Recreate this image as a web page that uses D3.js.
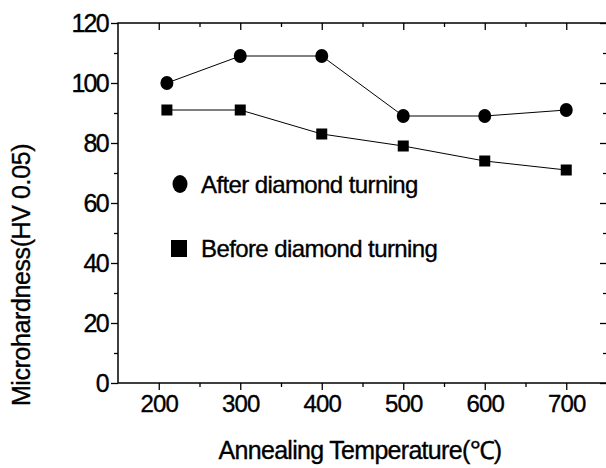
<!DOCTYPE html>
<html>
<head>
<meta charset="utf-8">
<script src="https://cdn.jsdelivr.net/npm/d3@7"></script>
<style>
  body { margin: 0; background: #fff; }
  svg text { font-family: "Liberation Sans", Arial, sans-serif; fill: #000; stroke: #000; stroke-width: 0.35px; }
</style>
</head>
<body>
<div id="chart"></div>
<script>
// values
const temps = [210, 300, 400, 500, 600, 700];
const afterTurning = [100, 109, 109, 89, 89, 91];
const beforeTurning = [91, 91, 83, 79, 74, 71];
const xTicks = [200, 300, 400, 500, 600, 700];
const yTicks = [0, 20, 40, 60, 80, 100, 120];

const width = 606, height = 468;
const plot = {left: 118, right: 607, top: 23, bottom: 383};

const svg = d3.select('#chart').append('svg')
    .attr('width', width)
    .attr('height', height);

const x = d3.scaleLinear().domain([150, 750]).range([plot.left, plot.right]);
const y = d3.scaleLinear().domain([0, 120]).range([plot.bottom, plot.top]);

// frame
svg.append('rect')
    .attr('x', plot.left).attr('y', plot.top)
    .attr('width', plot.right - plot.left).attr('height', plot.bottom - plot.top)
    .attr('fill', 'none').attr('stroke', '#000').attr('stroke-width', 1.5);

// minor tick values
const xMinor = d3.range(250, 751, 100);
const yMinor = d3.range(10, 120, 20);

// bottom axis, ticks outward
const bottomAxis = svg.append('g').attr('transform', `translate(0,${plot.bottom})`);
bottomAxis.call(d3.axisBottom(x).tickValues(xTicks).tickSize(7).tickPadding(5).tickFormat(d3.format('d')));
bottomAxis.append('g').call(d3.axisBottom(x).tickValues(xMinor).tickSize(4).tickFormat(''));

// left axis, ticks outward
const leftAxis = svg.append('g').attr('transform', `translate(${plot.left},0)`);
leftAxis.call(d3.axisLeft(y).tickValues(yTicks).tickSize(7).tickPadding(3));
leftAxis.append('g').call(d3.axisLeft(y).tickValues(yMinor).tickSize(4).tickFormat(''));

// top and right mirror ticks, pointing inward
const topAxis = svg.append('g').attr('transform', `translate(0,${plot.top})`);
topAxis.call(d3.axisBottom(x).tickValues(xTicks).tickSize(7).tickFormat(''));
topAxis.append('g').call(d3.axisBottom(x).tickValues(xMinor).tickSize(4).tickFormat(''));
const rightAxis = svg.append('g').attr('transform', `translate(${plot.right},0)`);
rightAxis.call(d3.axisLeft(y).tickValues(yTicks).tickSize(7).tickFormat(''));
rightAxis.append('g').call(d3.axisLeft(y).tickValues(yMinor).tickSize(4).tickFormat(''));

svg.selectAll('.domain').remove();
svg.selectAll('.tick line').attr('stroke', '#000').attr('stroke-width', 1.3);
bottomAxis.selectAll('.tick text')
    .attr('fill', '#000')
    .style('font-size', '24px')
    .style('letter-spacing', '-0.8px');
leftAxis.selectAll('.tick text')
    .attr('fill', '#000')
    .attr('dy', '0.35em')
    .style('font-size', '25px')
    .style('letter-spacing', '-1.7px');

// lines
const line = d3.line().x(d => x(d[0])).y(d => y(d[1]));
const afterData = temps.map((t, i) => [t, afterTurning[i]]);
const beforeData = temps.map((t, i) => [t, beforeTurning[i]]);

svg.append('path').datum(afterData).attr('d', line)
    .attr('fill', 'none').attr('stroke', '#000').attr('stroke-width', 1);
svg.append('path').datum(beforeData).attr('d', line)
    .attr('fill', 'none').attr('stroke', '#000').attr('stroke-width', 1);

// markers
svg.selectAll('.after').data(afterData).enter().append('ellipse')
    .attr('class', 'after')
    .attr('cx', d => x(d[0])).attr('cy', d => y(d[1]))
    .attr('rx', 6.5).attr('ry', 7)
    .attr('fill', '#000');
svg.selectAll('.before').data(beforeData).enter().append('rect')
    .attr('class', 'before')
    .attr('x', d => x(d[0]) - 5.5).attr('y', d => y(d[1]) - 5.5)
    .attr('width', 11).attr('height', 11)
    .attr('fill', '#000');

// legend
svg.append('ellipse').attr('cx', 180).attr('cy', 184).attr('rx', 7.5).attr('ry', 9).attr('fill', '#000');
svg.append('text').attr('x', 201).attr('y', 193)
    .style('font-size', '24px').style('letter-spacing', '-0.6px')
    .text('After diamond turning');
svg.append('rect').attr('x', 171).attr('y', 240).attr('width', 16).attr('height', 17).attr('fill', '#000');
svg.append('text').attr('x', 201).attr('y', 257)
    .style('font-size', '24px').style('letter-spacing', '-0.6px')
    .text('Before diamond turning');

// axis titles
svg.append('text')
    .attr('x', 360).attr('y', 459)
    .attr('text-anchor', 'middle')
    .style('font-size', '25px').style('letter-spacing', '-0.7px')
    .text('Annealing Temperature(℃)');

svg.append('text')
    .attr('transform', 'translate(30,275) rotate(-90)')
    .attr('text-anchor', 'middle')
    .style('font-size', '25px').style('letter-spacing', '-0.4px')
    .text('Microhardness(HV 0.05)');
</script>
</body>
</html>
